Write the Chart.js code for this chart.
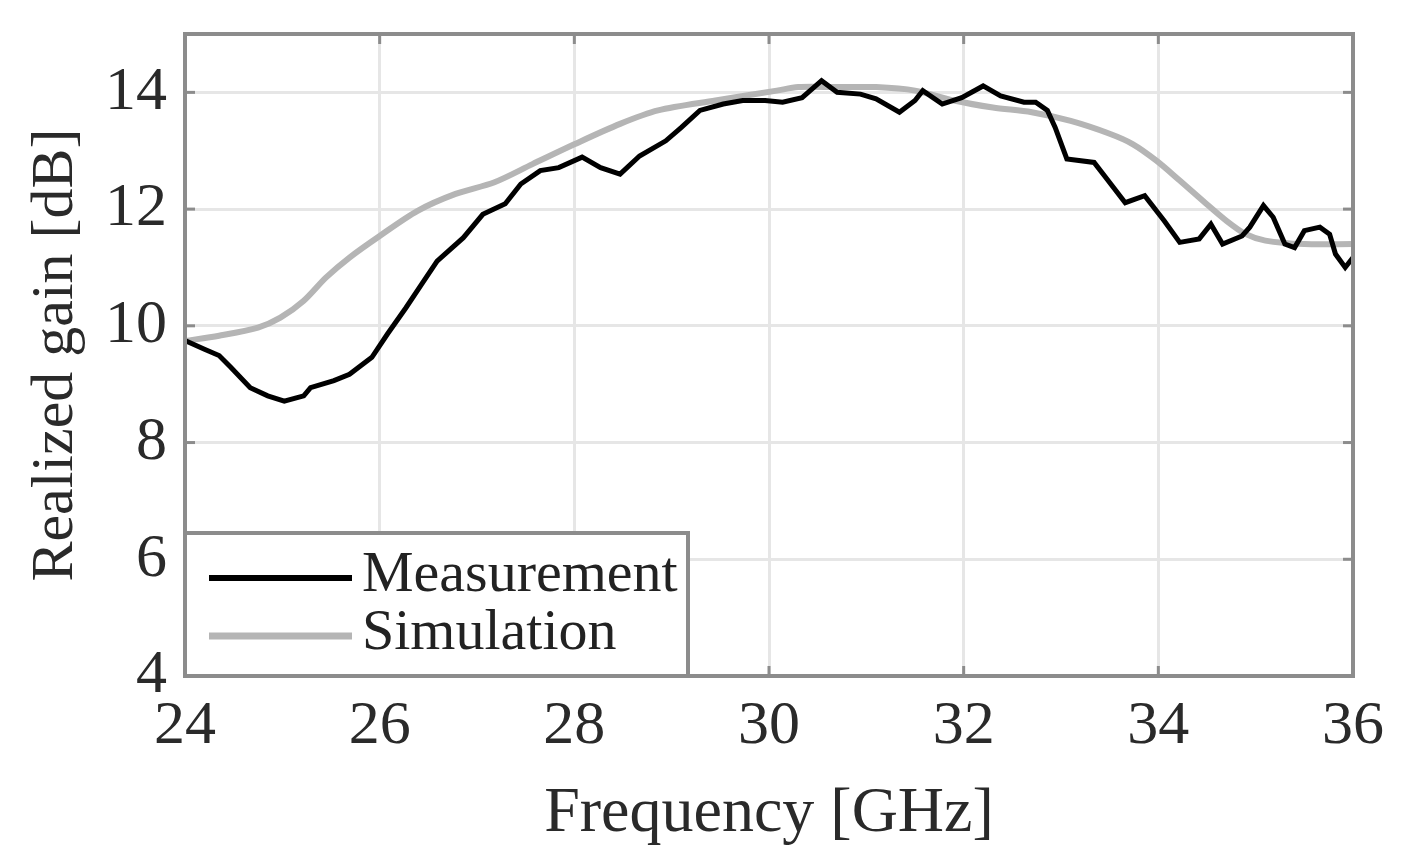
<!DOCTYPE html>
<html lang="en">
<head>
    <meta charset="UTF-8">
    <title>Realized gain</title>
    <script src="https://cdn.jsdelivr.net/npm/chart.js@4.4.0/dist/chart.umd.min.js"></script>
    <style>
        html, body { margin: 0; padding: 0; background: #fff; }
        #wrap { width: 1404px; height: 861px; }
    </style>
</head>
<body>
<div id="wrap"><canvas id="myChart" width="1404" height="861"></canvas></div>
<script>
    const measFreq = [24.0, 24.2, 24.35, 24.47, 24.67, 24.85, 25.02, 25.22, 25.29, 25.53, 25.69, 25.92, 26.08,
        26.27, 26.43, 26.59, 26.86, 27.06, 27.29, 27.45, 27.65, 27.84, 28.08, 28.27, 28.47, 28.67, 28.94,
        29.1, 29.29, 29.53, 29.73, 29.96, 30.14, 30.34, 30.54, 30.7, 30.94, 31.1, 31.34, 31.5, 31.58,
        31.78, 31.98, 32.2, 32.38, 32.62, 32.74, 32.86, 32.94, 33.06, 33.34, 33.46, 33.66, 33.86, 34.06,
        34.22, 34.42, 34.54, 34.66, 34.86, 34.94, 35.08, 35.18, 35.3, 35.4, 35.5, 35.66, 35.76, 35.82,
        35.92, 36.0];
    const measGain = [9.75, 9.6, 9.49, 9.29, 8.94, 8.8, 8.71, 8.8, 8.94, 9.06, 9.17, 9.46, 9.86,
        10.31, 10.71, 11.11, 11.51, 11.91, 12.09, 12.43, 12.66, 12.71, 12.89, 12.71, 12.6, 12.91, 13.17,
        13.4, 13.69, 13.8, 13.86, 13.86, 13.83, 13.91, 14.2, 14.0, 13.97, 13.89, 13.66, 13.86, 14.03,
        13.8, 13.91, 14.11, 13.94, 13.83, 13.83, 13.69, 13.4, 12.86, 12.8, 12.54, 12.11, 12.23, 11.8,
        11.43, 11.49, 11.74, 11.4, 11.54, 11.69, 12.06, 11.86, 11.4, 11.34, 11.63, 11.69, 11.57, 11.23,
        11.0, 11.17];

    // Simulation curve
    const simFreq = [24.0, 24.35, 24.75, 24.98, 25.22, 25.45, 25.69, 26.0, 26.39, 26.78, 27.18, 27.57, 28.0,
        28.47, 28.86, 29.45, 30.08, 30.3, 30.7, 31.1, 31.5, 31.9, 32.3, 32.7, 33.1, 33.5, 33.74, 33.98,
        34.22, 34.46, 34.7, 34.9, 35.1, 35.5, 36.0];
    const simGain = [9.74, 9.83, 9.97, 10.14, 10.43, 10.83, 11.17, 11.54, 11.97, 12.26, 12.46, 12.77, 13.11,
        13.46, 13.69, 13.86, 14.03, 14.09, 14.09, 14.09, 14.03, 13.86, 13.74, 13.66, 13.51, 13.29, 13.11, 12.83,
        12.49, 12.14, 11.8, 11.57, 11.46, 11.4, 11.4];

    const seriesNames = ["Measurement", "Simulation"];
    const xTicks = [24, 26, 28, 30, 32, 34, 36];
    const yTicks = [4, 6, 8, 10, 12, 14];

    const serif = "'Liberation Serif', 'DejaVu Serif', serif";
    const axisGray = "#8c8c8c";

    function toPoints(xs, ys) {
        return xs.map((x, i) => ({ x: x, y: ys[i] }));
    }

    // box around the plot plus the legend in the lower left corner
    const boxAndLegend = {
        id: "boxAndLegend",
        afterDatasetsDraw(chart) {
            const ctx = chart.ctx;
            const a = chart.chartArea;
            ctx.save();
            ctx.strokeStyle = axisGray;
            ctx.lineWidth = 4;
            ctx.strokeRect(a.left, a.top, a.right - a.left, a.bottom - a.top);

            // small inward tick marks
            ctx.lineWidth = 3;
            const xs = chart.scales.x, ys = chart.scales.y;
            xTicks.forEach(t => {
                const px = xs.getPixelForValue(t);
                ctx.beginPath(); ctx.moveTo(px, a.bottom); ctx.lineTo(px, a.bottom - 10); ctx.stroke();
                ctx.beginPath(); ctx.moveTo(px, a.top); ctx.lineTo(px, a.top + 10); ctx.stroke();
            });
            yTicks.forEach(t => {
                const py = ys.getPixelForValue(t);
                ctx.beginPath(); ctx.moveTo(a.left, py); ctx.lineTo(a.left + 10, py); ctx.stroke();
                ctx.beginPath(); ctx.moveTo(a.right, py); ctx.lineTo(a.right - 10, py); ctx.stroke();
            });

            // legend
            const lx = a.left, ly = 533, lw = 503, lh = a.bottom - ly;
            ctx.fillStyle = "#fff";
            ctx.fillRect(lx, ly, lw, lh);
            ctx.lineWidth = 4;
            ctx.strokeStyle = axisGray;
            ctx.strokeRect(lx, ly, lw, lh);
            chart.data.datasets.forEach((ds, i) => {
                const y = 578 + i * 58;
                ctx.strokeStyle = ds.borderColor;
                ctx.lineWidth = ds.borderWidth + 1;
                ctx.beginPath(); ctx.moveTo(lx + 24, y); ctx.lineTo(lx + 167, y); ctx.stroke();
                ctx.fillStyle = "#222";
                ctx.font = "58px " + serif;
                ctx.textBaseline = "middle";
                ctx.fillText(ds.label, lx + 177, y - 2);
            });
            ctx.restore();
        }
    };

    const ctx = document.getElementById("myChart").getContext("2d");
    const myChart = new Chart(ctx, {
        type: "line",
        data: {
            datasets: [{
                label: seriesNames[0],
                data: toPoints(measFreq, measGain),
                borderColor: "#000",
                borderWidth: 5,
                pointRadius: 0,
                tension: 0
            }, {
                label: seriesNames[1],
                data: toPoints(simFreq, simGain),
                borderColor: "#b5b5b5",
                borderWidth: 6,
                pointRadius: 0,
                tension: 0.3
            }]
        },
        options: {
            responsive: false,
            animation: false,
            layout: { padding: { top: 34, right: 51, left: 0, bottom: 0 } },
            plugins: {
                legend: { display: false },
                tooltip: { enabled: false }
            },
            scales: {
                x: {
                    type: "linear",
                    min: 24,
                    max: 36,
                    afterBuildTicks: s => { s.ticks = xTicks.map(v => ({ value: v })); },
                    afterFit: s => { s.height = 185; s.paddingLeft = 0; s.paddingRight = 0; },
                    grid: { color: "#e6e6e6", lineWidth: 3, drawTicks: false },
                    border: { display: false },
                    ticks: { color: "#2a2a2a", font: { family: serif, size: 62 }, padding: 14, maxRotation: 0 },
                    title: { display: true, text: "Frequency [GHz]", color: "#2a2a2a", font: { family: serif, size: 64 }, padding: { top: 0, bottom: 8 } }
                },
                y: {
                    min: 4,
                    max: 15,
                    afterBuildTicks: s => { s.ticks = yTicks.map(v => ({ value: v })); },
                    afterFit: s => { s.width = 185; s.paddingTop = 0; s.paddingBottom = 0; },
                    grid: { color: "#e6e6e6", lineWidth: 3, drawTicks: false },
                    border: { display: false },
                    ticks: { color: "#2a2a2a", font: { family: serif, size: 62 }, padding: 18 },
                    title: { display: true, text: "Realized gain [dB]", color: "#2a2a2a", font: { family: serif, size: 60 }, padding: { bottom: 0, top: 20 } }
                }
            }
        },
        plugins: [boxAndLegend]
    });
</script>
</body>
</html>
